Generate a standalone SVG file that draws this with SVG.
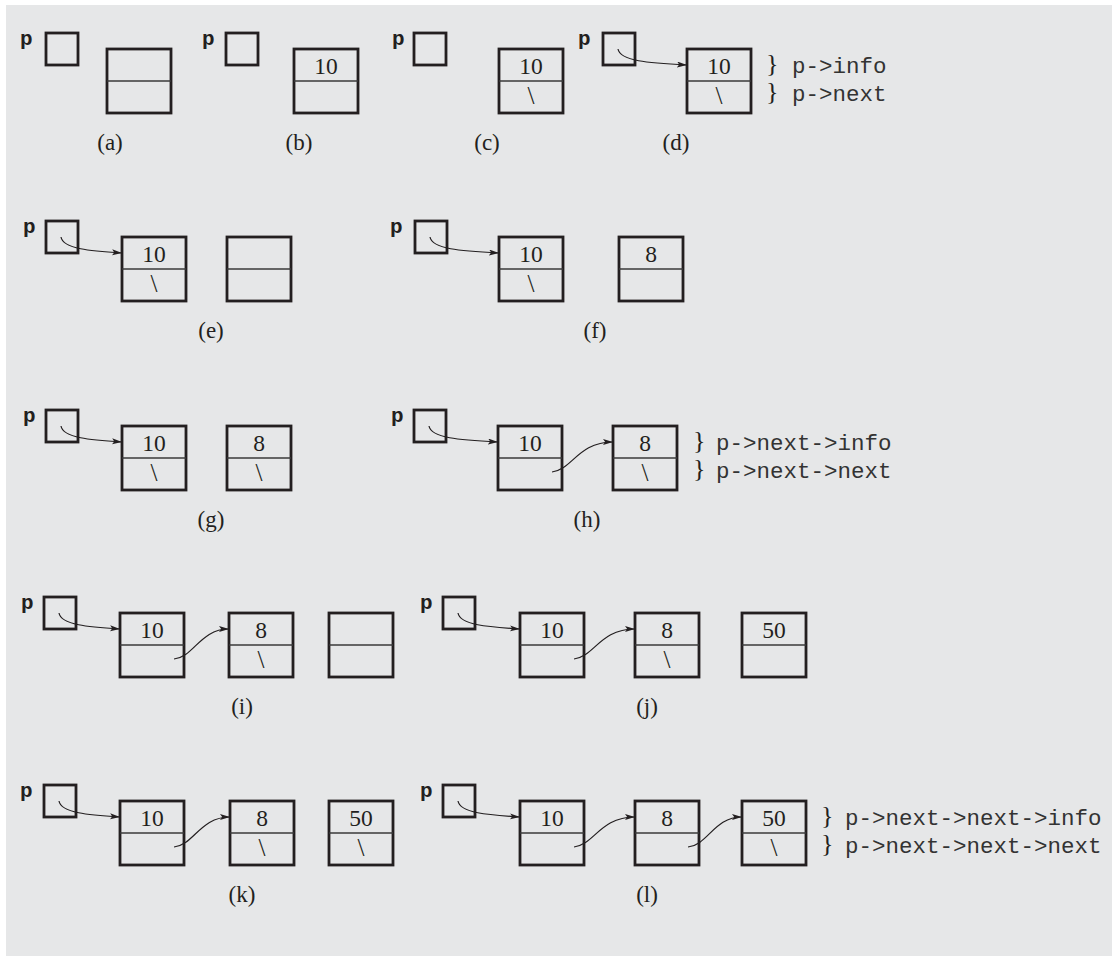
<svg xmlns="http://www.w3.org/2000/svg" width="1112" height="956" viewBox="0 0 1112 956">
<style>
.bg{fill:#e6e7e8}
.pb{fill:none;stroke:#231f20;stroke-width:2.8}
.nb{fill:none;stroke:#231f20;stroke-width:2.8}
.dv{stroke:#3a3a3a;stroke-width:1.3}
.pl{font-family:"Liberation Mono",monospace;font-weight:bold;font-size:21px;fill:#231f20}
.val{font-family:"Liberation Serif",serif;font-size:23.5px;fill:#231f20;text-anchor:middle}
.sl{font-family:"Liberation Serif",serif;font-size:25px;fill:#231f20;text-anchor:middle}
.cap{font-family:"Liberation Serif",serif;font-size:23px;fill:#231f20;text-anchor:middle}
.br{font-family:"Liberation Serif",serif;font-size:26px;fill:#231f20}
.code{font-family:"Liberation Mono",monospace;font-size:22.5px;fill:#333}
.cn{fill:none;stroke:#231f20;stroke-width:1.2;marker-end:url(#ah)}
</style>
<defs>
<marker id="ah" markerUnits="userSpaceOnUse" markerWidth="11" markerHeight="7" refX="10" refY="3" orient="auto">
<path d="M0,0 L10,3 L0,6 L2.2,3 z" fill="#231f20"/>
</marker>
<g id="nodebox"><rect class="nb" x="0" y="0" width="64" height="64"/><line class="dv" x1="0" y1="32" x2="64" y2="32"/></g>
</defs>
<rect class="bg" x="6" y="5" width="1106" height="951"/>

<!-- Row 1 -->
<g id="a-p"><text class="pl" x="20" y="45">p</text><rect class="pb" x="46" y="33" width="32" height="32"/></g>
<g id="a-n1"><use href="#nodebox" x="107" y="49"/></g>
<g id="b-p"><text class="pl" x="202" y="45">p</text><rect class="pb" x="226" y="33" width="32" height="32"/></g>
<g id="b-n1"><use href="#nodebox" x="294" y="49"/><text class="val" x="326" y="74">10</text></g>
<g id="c-p"><text class="pl" x="392" y="45">p</text><rect class="pb" x="414" y="33" width="32" height="32"/></g>
<g id="c-n1"><use href="#nodebox" x="499" y="49"/><text class="val" x="531" y="74">10</text><text class="sl" x="531" y="104">\</text></g>
<g id="d-p"><text class="pl" x="578" y="45">p</text><rect class="pb" x="603" y="33" width="32" height="32"/></g>
<g id="d-n1"><use href="#nodebox" x="687" y="49"/><text class="val" x="719" y="74">10</text><text class="sl" x="719" y="104">\</text></g>
<g id="d-ann"><text class="br" x="766" y="72">}</text><text class="br" x="766" y="100">}</text><text class="code" x="792" y="73">p-&gt;info</text><text class="code" x="792" y="101">p-&gt;next</text></g>

<!-- Row 2 -->
<g id="e-p"><text class="pl" x="23" y="233">p</text><rect class="pb" x="46" y="221" width="32" height="32"/></g>
<g id="e-n1"><use href="#nodebox" x="122" y="237"/><text class="val" x="154" y="262">10</text><text class="sl" x="154" y="292">\</text></g>
<g id="e-n2"><use href="#nodebox" x="227" y="237"/></g>
<g id="f-p"><text class="pl" x="390" y="233">p</text><rect class="pb" x="415" y="221" width="32" height="32"/></g>
<g id="f-n1"><use href="#nodebox" x="499" y="237"/><text class="val" x="531" y="262">10</text><text class="sl" x="531" y="292">\</text></g>
<g id="f-n2"><use href="#nodebox" x="619" y="237"/><text class="val" x="651" y="262">8</text></g>

<!-- Row 3 -->
<g id="g-p"><text class="pl" x="23" y="422">p</text><rect class="pb" x="46" y="410" width="32" height="32"/></g>
<g id="g-n1"><use href="#nodebox" x="122" y="426"/><text class="val" x="154" y="451">10</text><text class="sl" x="154" y="481">\</text></g>
<g id="g-n2"><use href="#nodebox" x="227" y="426"/><text class="val" x="259" y="451">8</text><text class="sl" x="259" y="481">\</text></g>
<g id="h-p"><text class="pl" x="391" y="422">p</text><rect class="pb" x="414" y="410" width="32" height="32"/></g>
<g id="h-n1"><use href="#nodebox" x="498" y="426"/><text class="val" x="530" y="451">10</text></g>
<g id="h-n2"><use href="#nodebox" x="613" y="426"/><text class="val" x="645" y="451">8</text><text class="sl" x="645" y="481">\</text></g>
<g id="h-ann"><text class="br" x="693" y="449">}</text><text class="br" x="693" y="477">}</text><text class="code" x="716" y="450">p-&gt;next-&gt;info</text><text class="code" x="716" y="478">p-&gt;next-&gt;next</text></g>

<!-- Row 4 -->
<g id="i-p"><text class="pl" x="21" y="609">p</text><rect class="pb" x="44" y="597" width="32" height="32"/></g>
<g id="i-n1"><use href="#nodebox" x="120" y="613"/><text class="val" x="152" y="638">10</text></g>
<g id="i-n2"><use href="#nodebox" x="229" y="613"/><text class="val" x="261" y="638">8</text><text class="sl" x="261" y="668">\</text></g>
<g id="i-n3"><use href="#nodebox" x="329" y="613"/></g>
<g id="j-p"><text class="pl" x="420" y="609">p</text><rect class="pb" x="443" y="597" width="32" height="32"/></g>
<g id="j-n1"><use href="#nodebox" x="520" y="613"/><text class="val" x="552" y="638">10</text></g>
<g id="j-n2"><use href="#nodebox" x="635" y="613"/><text class="val" x="667" y="638">8</text><text class="sl" x="667" y="668">\</text></g>
<g id="j-n3"><use href="#nodebox" x="742" y="613"/><text class="val" x="774" y="638">50</text></g>

<!-- Row 5 -->
<g id="k-p"><text class="pl" x="20" y="797">p</text><rect class="pb" x="44" y="785" width="32" height="32"/></g>
<g id="k-n1"><use href="#nodebox" x="120" y="801"/><text class="val" x="152" y="826">10</text></g>
<g id="k-n2"><use href="#nodebox" x="230" y="801"/><text class="val" x="262" y="826">8</text><text class="sl" x="262" y="856">\</text></g>
<g id="k-n3"><use href="#nodebox" x="329" y="801"/><text class="val" x="361" y="826">50</text><text class="sl" x="361" y="856">\</text></g>
<g id="l-p"><text class="pl" x="420" y="797">p</text><rect class="pb" x="443" y="785" width="32" height="32"/></g>
<g id="l-n1"><use href="#nodebox" x="520" y="801"/><text class="val" x="552" y="826">10</text></g>
<g id="l-n2"><use href="#nodebox" x="635" y="801"/><text class="val" x="667" y="826">8</text></g>
<g id="l-n3"><use href="#nodebox" x="742" y="801"/><text class="val" x="774" y="826">50</text><text class="sl" x="774" y="856">\</text></g>
<g id="l-ann"><text class="br" x="821" y="824">}</text><text class="br" x="821" y="852">}</text><text class="code" x="845" y="825">p-&gt;next-&gt;next-&gt;info</text><text class="code" x="845" y="853">p-&gt;next-&gt;next-&gt;next</text></g>

<g id="connectors">
<path class="cn" d="M618,49 C620,61 648,63 687,65"/>
<path class="cn" d="M61,237 C63,249 91,251 122,253"/>
<path class="cn" d="M430,237 C432,249 460,251 499,253"/>
<path class="cn" d="M61,426 C63,438 91,440 122,442"/>
<path class="cn" d="M429,426 C431,438 459,440 498,442"/>
<path class="cn" d="M552,472 C572,470 578,442 613,442"/>
<path class="cn" d="M59,613 C61,625 89,627 120,629"/>
<path class="cn" d="M174,659 C194,657 200,629 229,629"/>
<path class="cn" d="M458,613 C460,625 488,627 520,629"/>
<path class="cn" d="M574,659 C594,657 600,629 635,629"/>
<path class="cn" d="M59,801 C61,813 89,815 120,817"/>
<path class="cn" d="M174,847 C194,845 200,817 230,817"/>
<path class="cn" d="M458,801 C460,813 488,815 520,817"/>
<path class="cn" d="M574,847 C594,845 600,817 635,817"/>
<path class="cn" d="M688,847 C708,845 714,817 742,817"/>
</g>

<g id="captions">
<text class="cap" x="110" y="150">(a)</text>
<text class="cap" x="299" y="150">(b)</text>
<text class="cap" x="487" y="150">(c)</text>
<text class="cap" x="676" y="150">(d)</text>
<text class="cap" x="211" y="338">(e)</text>
<text class="cap" x="595" y="338">(f)</text>
<text class="cap" x="211" y="527">(g)</text>
<text class="cap" x="587" y="527">(h)</text>
<text class="cap" x="242" y="714">(i)</text>
<text class="cap" x="647" y="714">(j)</text>
<text class="cap" x="242" y="902">(k)</text>
<text class="cap" x="647" y="902">(l)</text>
</g>
</svg>
